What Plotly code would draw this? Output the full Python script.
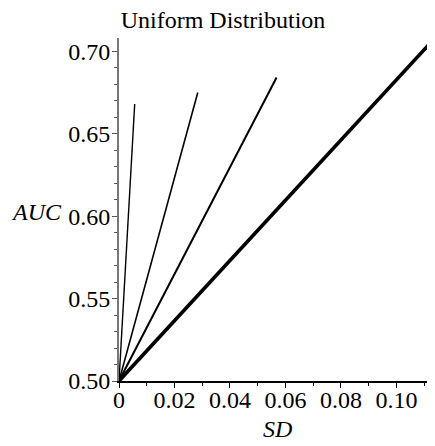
import plotly.graph_objects as go

# end points of each line, all starting at (0, 0.5)
sd_end = [0.00566, 0.0284, 0.0568, 0.1139]
auc_end = [0.668, 0.675, 0.684, 0.708]
line_widths = [1.4, 1.6, 2.0, 3.6]

x_tickvals = [0, 0.02, 0.04, 0.06, 0.08, 0.10]
x_ticktext = ["0", "0.02", "0.04", "0.06", "0.08", "0.10"]
y_tickvals = [0.50, 0.55, 0.60, 0.65, 0.70]
y_ticktext = ["0.50", "0.55", "0.60", "0.65", "0.70"]

SERIF = "Liberation Serif"

# page body has an 8px margin, so the figure is a bit smaller than the window
W, H = 427, 438
L, R, T, B = 111, 0, 30, 65
pw = W - L - R
ph = H - T - B

fig = go.Figure()
for xe, ye, w in zip(sd_end, auc_end, line_widths):
    fig.add_trace(
        go.Scatter(
            x=[0, xe],
            y=[0.5, ye],
            mode="lines",
            line=dict(color="black", width=w),
            showlegend=False,
            hoverinfo="skip",
        )
    )

fig.update_layout(
    width=W,
    height=H,
    margin=dict(l=L, r=R, t=T, b=B, autoexpand=False),
    plot_bgcolor="white",
    paper_bgcolor="white",
    font=dict(family=SERIF, size=24, color="black"),
    title=dict(
        text="Uniform Distribution",
        x=215 / W,
        xref="container",
        xanchor="center",
        y=1 - 12 / H,
        yref="container",
        yanchor="middle",
        font=dict(family=SERIF, size=24, color="black"),
    ),
    xaxis=dict(
        range=[0, 0.1139],
        tickvals=x_tickvals,
        ticktext=x_ticktext,
        ticks="outside",
        ticklen=5,
        tickcolor="black",
        ticklabelstandoff=-9,
        showline=True,
        linecolor="black",
        linewidth=1.5,
        showgrid=False,
        zeroline=False,
        minor=dict(dtick=0.01, tick0=0, ticks="outside", ticklen=3, tickcolor="black"),
        tickfont=dict(family=SERIF, size=24),
    ),
    yaxis=dict(
        range=[0.5, 0.708],
        tickvals=y_tickvals,
        ticktext=y_ticktext,
        ticks="outside",
        ticklen=5,
        tickcolor="#555",
        ticklabelstandoff=-3,
        showline=True,
        linecolor="#777",
        linewidth=2,
        showgrid=False,
        zeroline=False,
        minor=dict(dtick=0.01, tick0=0.5, ticks="outside", ticklen=3, tickcolor="#555"),
        tickfont=dict(family=SERIF, size=24),
    ),
    annotations=[
        dict(
            text="<i>AUC</i>",
            x=(28 - L) / pw,
            y=(H - B - 204) / ph,
            xref="paper",
            yref="paper",
            xanchor="center",
            yanchor="middle",
            showarrow=False,
            font=dict(family=SERIF, size=24),
        ),
        dict(
            text="<i>SD</i>",
            x=(269 - L) / pw,
            y=(H - B - 421) / ph,
            xref="paper",
            yref="paper",
            xanchor="center",
            yanchor="middle",
            showarrow=False,
            font=dict(family=SERIF, size=24),
        ),
    ],
)

fig.write_html("out.html")
